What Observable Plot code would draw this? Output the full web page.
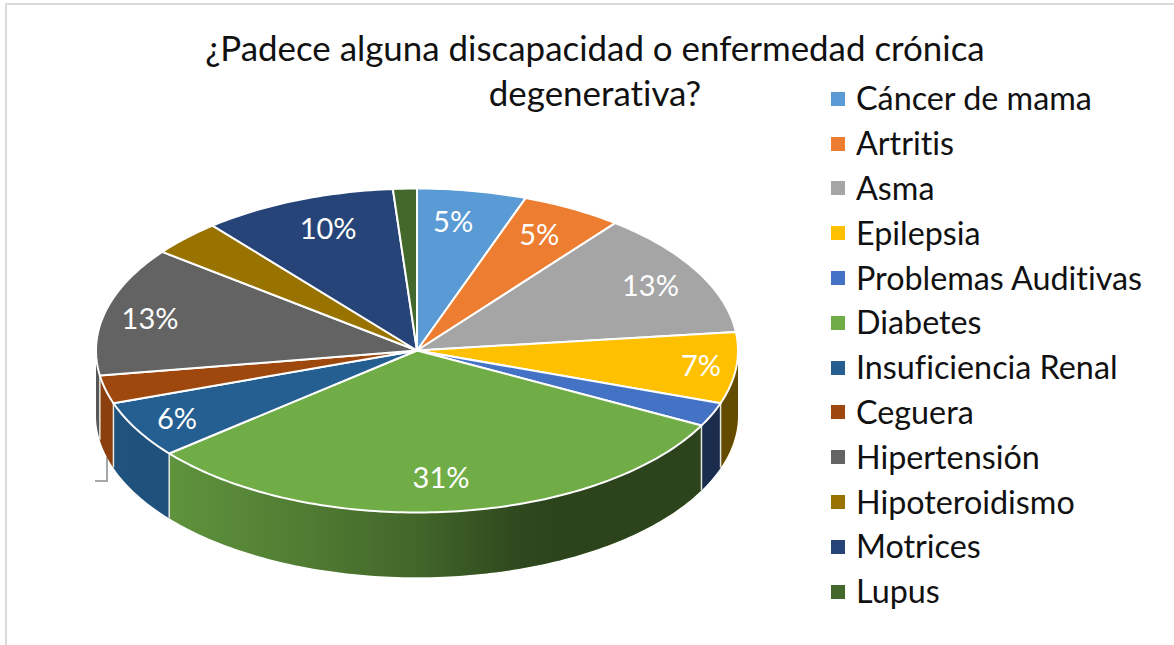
<!DOCTYPE html>
<html lang="es">
<head>
<meta charset="utf-8">
<title>Discapacidad o enfermedad crónica degenerativa</title>
<script src="https://cdn.jsdelivr.net/npm/d3@7"></script>
<script src="https://cdn.jsdelivr.net/npm/@observablehq/plot@0.6"></script>
<style>
  html, body { margin: 0; background: #fff; }
  #page { position: relative; width: 1174px; height: 645px; overflow: hidden; font-family: Lato, "Open Sans", sans-serif; color: #111; font-variant-ligatures: none; }
  #frame { position: absolute; left: 5px; top: 3px; right: -4px; bottom: -4px; border-left: 2px solid #d9d9d9; border-top: 2px solid #d9d9d9; }
  #tick { position: absolute; left: 95px; top: 457px; width: 11px; height: 23px; border-right: 2px solid #a6a6a6; border-bottom: 2px solid #a6a6a6; }
  #chart { position: absolute; left: 0; top: 0; }
  #title { position: absolute; left: 95px; width: 1000px; top: 26px; text-align: center; font-size: 34.9px; line-height: 44.5px; }
  #legend { position: absolute; left: 831px; top: 76.4px; font-size: 32.3px; line-height: 44.8px; white-space: nowrap; }
  #legend .row { display: flex; align-items: center; height: 44.8px; }
  #legend .sw { width: 14px; height: 14px; margin-right: 11px; flex: none; }
</style>
</head>
<body>
<div id="page">
  <div id="frame"></div>
  <div id="tick"></div>
  <div id="chart"></div>
  <div id="title">¿Padece alguna discapacidad o enfermedad crónica<br>degenerativa?</div>
  <div id="legend"></div>
</div>
<script>
const categories = ["Cáncer de mama", "Artritis", "Asma", "Epilepsia", "Problemas Auditivas", "Diabetes", "Insuficiencia Renal", "Ceguera", "Hipertensión", "Hipoteroidismo", "Motrices", "Lupus"];
const shares = [5.5, 5.1, 12.6, 7.1, 2.4, 31.4, 5.7, 2.8, 12.9, 3.6, 9.8, 1.2];
const labels = ["5%", "5%", "13%", "7%", "", "31%", "6%", "", "13%", "", "10%", ""];
const colors = ["#5b9bd5", "#ed7d31", "#a5a5a5", "#ffc000", "#4472c4", "#70ad47", "#255e91", "#9e480e", "#636363", "#997300", "#264478", "#43682b"];

// Pie layout, in units of the pie radius (turn in degrees from a slice's middle)
const labelRadius = [0.8, 0.81, 0.83, 0.89, 0, 0.79, 0.857, 0, 0.855, 0, 0.8, 0];
const labelTurn = [-1.8, -0.9, 0.4, 0, 0, 0.5, 0, 0, -0.9, 0, 1.7, 0];
const depth = 0.4;
const shadeId = "wallShade";
const shadeStops = [[-1, 0.12], [-0.77, 0.15], [-0.36, 0.28], [0, 0.41], [0.31, 0.58], [0.45, 0.61], [1, 0.61]];

const total = d3.sum(shares);
let running = 0;
const slices = categories.map((name, i) => {
  const a0 = running / total * 2 * Math.PI;
  running += shares[i];
  const a1 = running / total * 2 * Math.PI;
  return {name, a0, a1, label: labels[i], labelRadius: labelRadius[i], labelTurn: labelTurn[i] * Math.PI / 180};
});

const arc = (a0, a1) => {
  const n = Math.max(2, Math.ceil((a1 - a0) / (Math.PI / 180)));
  return d3.range(n + 1).map(k => a0 + (a1 - a0) * k / n);
};

const faces = slices.flatMap(s => [
  {name: s.name, x: 0, y: 0},
  ...arc(s.a0, s.a1).map(a => ({name: s.name, x: Math.sin(a), y: Math.cos(a)})),
  {name: s.name, x: 0, y: 0}
]);

const front = slices.map(s => ({
  name: s.name,
  a0: Math.max(s.a0, Math.PI / 2),
  a1: Math.min(s.a1, 3 * Math.PI / 2)
})).filter(s => s.a1 > s.a0);

const walls = front.flatMap(s => {
  const t = arc(s.a0, s.a1);
  return [
    ...t.map(a => ({name: s.name, x: Math.sin(a), y: Math.cos(a)})),
    ...t.slice().reverse().map(a => ({name: s.name, x: Math.sin(a), y: Math.cos(a) - depth}))
  ];
});

const edges = slices
  .map(s => s.a1)
  .filter(a => a > Math.PI / 2 && a < 3 * Math.PI / 2)
  .map(a => ({x: Math.sin(a), y1: Math.cos(a), y2: Math.cos(a) - depth}));

const textLabels = slices.filter(s => s.label).map(s => {
  const a = (s.a0 + s.a1) / 2 + s.labelTurn;
  return {label: s.label, x: Math.sin(a) * s.labelRadius, y: Math.cos(a) * s.labelRadius};
});

const chart = Plot.plot({
  width: 1174,
  height: 645,
  margin: 0,
  style: {fontFamily: "Lato, 'Open Sans', sans-serif", background: "transparent"},
  x: {domain: [-1, 1], range: [95.5, 737.5], axis: null},
  y: {domain: [-1, 1], range: [512, 188], axis: null},
  color: {domain: categories, range: colors},
  marks: [
    Plot.line(walls, {x: "x", y: "y", z: "name", fill: "name", stroke: "none"}),
    Plot.line(walls, {x: "x", y: "y", z: "name", fill: "url(#" + shadeId + ")", stroke: "none"}),
    Plot.ruleX(edges, {x: "x", y1: "y1", y2: "y2", stroke: "#e4e8e0", strokeWidth: 1.5}),
    Plot.line(faces, {x: "x", y: "y", z: "name", fill: "name", stroke: "#fff", strokeWidth: 2, strokeLinejoin: "round"}),
    Plot.text(textLabels, {x: "x", y: "y", text: "label", fill: "#fff", fontSize: 29, dy: 1})
  ]
});

// Horizontal shading of the pie's side wall, positioned through the x scale
const xScale = chart.scale("x");
const NS = "http://www.w3.org/2000/svg";
const defs = document.createElementNS(NS, "defs");
const gradient = document.createElementNS(NS, "linearGradient");
gradient.setAttribute("id", shadeId);
gradient.setAttribute("gradientUnits", "userSpaceOnUse");
gradient.setAttribute("x1", xScale.apply(-1));
gradient.setAttribute("x2", xScale.apply(1));
gradient.setAttribute("y1", 0);
gradient.setAttribute("y2", 0);
for (const [x, alpha] of shadeStops) {
  const stop = document.createElementNS(NS, "stop");
  stop.setAttribute("offset", (x + 1) / 2);
  stop.setAttribute("stop-color", "#000");
  stop.setAttribute("stop-opacity", alpha);
  gradient.appendChild(stop);
}
defs.appendChild(gradient);
chart.insertBefore(defs, chart.firstChild);
document.getElementById("chart").appendChild(chart);

const legend = document.getElementById("legend");
categories.forEach((name, i) => {
  const row = document.createElement("div");
  row.className = "row";
  const sw = document.createElement("span");
  sw.className = "sw";
  sw.style.background = colors[i];
  const label = document.createElement("span");
  label.textContent = name;
  row.append(sw, label);
  legend.appendChild(row);
});
</script>
</body>
</html>
